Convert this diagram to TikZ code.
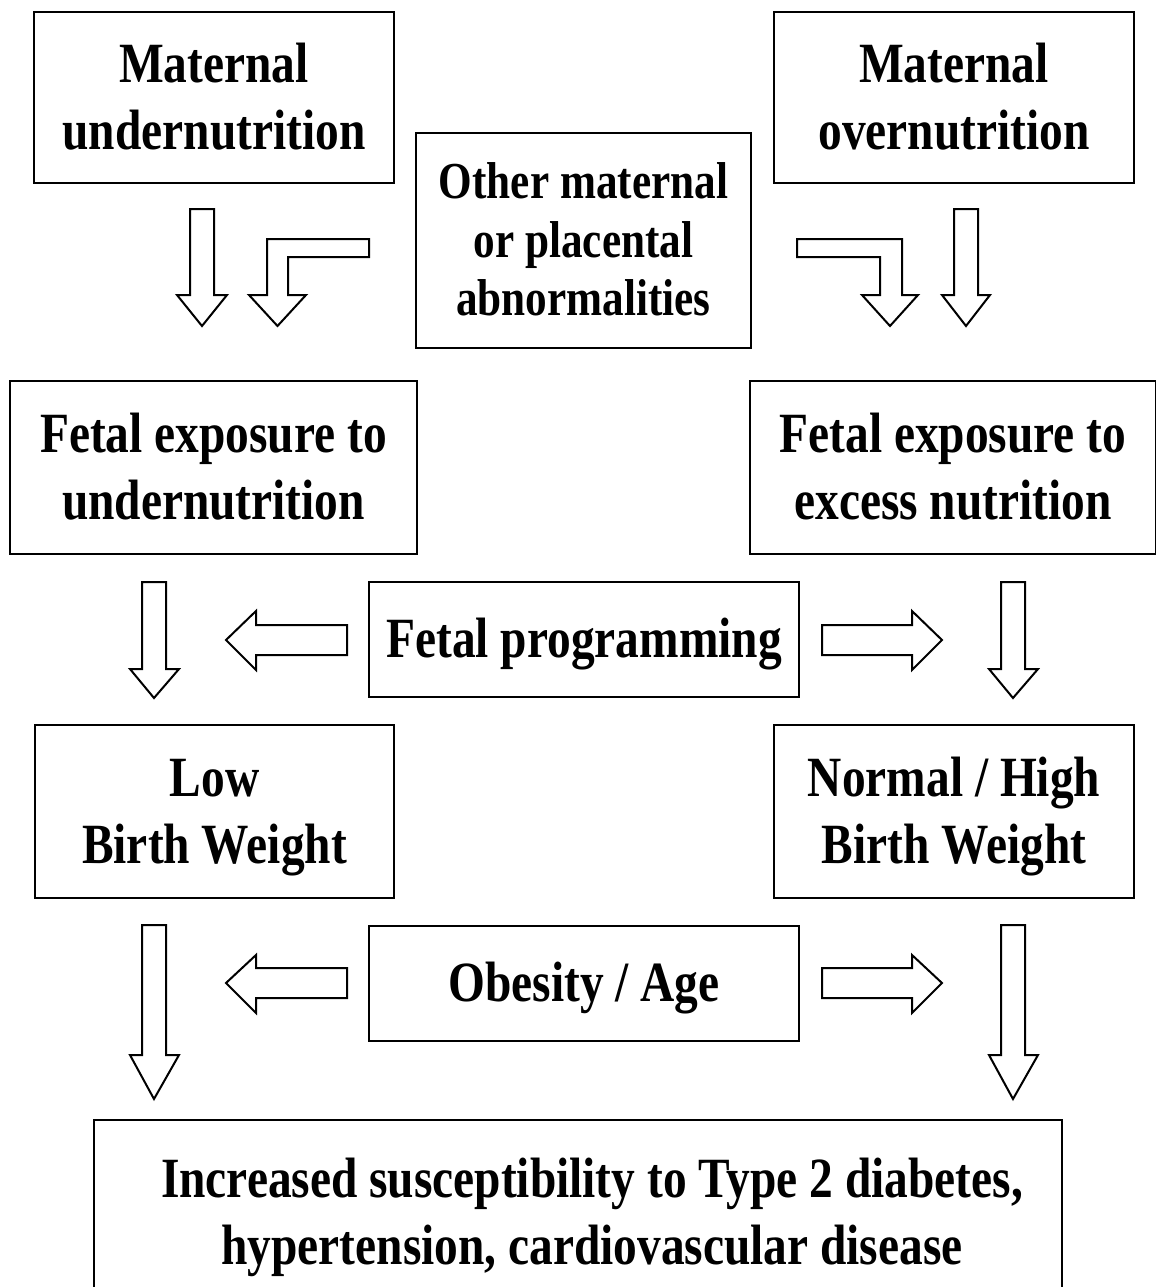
\documentclass[tikz,border=0pt]{standalone}
\usepackage{graphicx}
\usepackage{fontspec}
\setmainfont{Liberation Serif}
\usepackage{tikz}
\tikzstyle{mybox} = [draw=black, line width=1.4pt, fill=white,
    rectangle, inner sep=0pt, font=\fontsize{23.7}{27.8}\selectfont\bfseries]
\tikzstyle{hollow} = [draw=black, line width=1pt, fill=white, line join=miter]
\newcommand{\tall}[1]{\raisebox{-2.5pt}[\height][\depth]{\scalebox{1}[1.2]{\begin{tabular}{@{}c@{}}#1\end{tabular}}}}

\begin{document}
\begin{tikzpicture}[x=0.5pt, y=-0.5pt]
                \useasboundingbox (0,0) rectangle (1156,1287);
                \node[mybox, minimum width=180pt, minimum height=85.5pt] (matunder) at (214,97.5) {\tall{Maternal\\undernutrition}};
                \node[mybox, minimum width=167.5pt, minimum height=107.5pt, font=\fontsize{21.6}{24.4}\selectfont\bfseries] (other) at (583.5,240.5) {\tall{Other maternal\\or placental\\abnormalities}\hspace{4pt}};
                \node[mybox, minimum width=180pt, minimum height=85.5pt] (matover) at (954,97.5) {\tall{Maternal\\overnutrition}};
                \node[mybox, minimum width=203.5pt, minimum height=86.5pt] (fetunder) at (213.5,467.5) {\tall{Fetal exposure to\\undernutrition}};
                \node[mybox, minimum width=203pt, minimum height=86.5pt] (fetover) at (953,467.5) {\tall{Fetal exposure to\\excess nutrition}};
                \node[mybox, minimum width=215pt, minimum height=57.5pt] (fetprog) at (584,639.5) {\tall{Fetal programming}};
                \node[mybox, minimum width=179.5pt, minimum height=86.5pt] (lbw) at (214.5,811.5) {\tall{Low\\Birth Weight}};
                \node[mybox, minimum width=180pt, minimum height=86.5pt] (hbw) at (954,811.5) {\tall{Normal / High\\Birth Weight}};
                \node[mybox, minimum width=215pt, minimum height=57.5pt] (obesity) at (584,983.5) {\tall{Obesity / Age}};
                \node[mybox, minimum width=484pt, minimum height=92.5pt] (disease) at (578,1212.5) {\hspace{14pt}\tall{Increased susceptibility to Type 2 diabetes,\\hypertension, cardiovascular disease}};
                % arrows below the top row
                \draw[hollow] (190,209) -- (214,209) -- (214,295) -- (227,295) -- (202,326) -- (177,295) -- (190,295) -- cycle;
                \draw[hollow] (369,239) -- (369,257) -- (288,257) -- (288,295) -- (306,295) -- (277.5,326) -- (249,295) -- (267,295) -- (267,239) -- cycle;
                \draw[hollow] (797,239) -- (902,239) -- (902,295) -- (918,295) -- (890,326) -- (862,295) -- (880,295) -- (880,257) -- (797,257) -- cycle;
                \draw[hollow] (954,209) -- (978,209) -- (978,295) -- (990,295) -- (966,326) -- (942,295) -- (954,295) -- cycle;
                % fetal programming row
                \draw[hollow] (142,582) -- (166,582) -- (166,669) -- (179,669) -- (154,698) -- (130,669) -- (142,669) -- cycle;
                \draw[hollow] (1001,582) -- (1025,582) -- (1025,669) -- (1038,669) -- (1013,698) -- (989,669) -- (1001,669) -- cycle;
                \draw[hollow] (347,625) -- (347,655) -- (256,655) -- (256,670) -- (226,640) -- (256,611) -- (256,625) -- cycle;
                \draw[hollow] (822,625) -- (912,625) -- (912,611) -- (942,640) -- (912,670) -- (912,655) -- (822,655) -- cycle;
                % obesity row
                \draw[hollow] (142,925) -- (166,925) -- (166,1055) -- (179,1055) -- (154,1099) -- (130,1055) -- (142,1055) -- cycle;
                \draw[hollow] (1001,925) -- (1025,925) -- (1025,1055) -- (1038,1055) -- (1013,1099) -- (989,1055) -- (1001,1055) -- cycle;
                \draw[hollow] (347,968) -- (347,998) -- (256,998) -- (256,1013) -- (226,983) -- (256,955) -- (256,968) -- cycle;
                \draw[hollow] (822,968) -- (912,968) -- (912,955) -- (942,983) -- (912,1013) -- (912,998) -- (822,998) -- cycle;
            \end{tikzpicture}
\end{document}
